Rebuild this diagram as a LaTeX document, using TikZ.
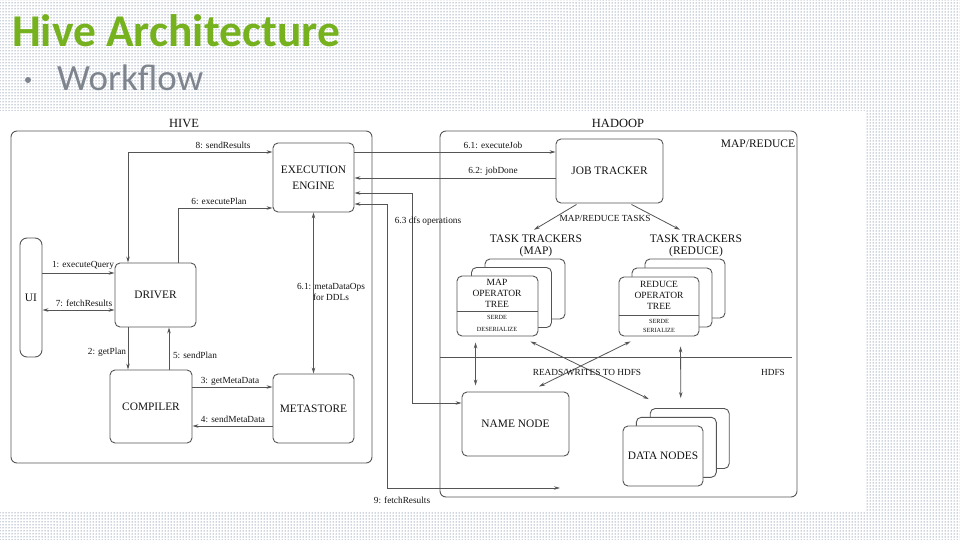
\documentclass[tikz,border=0pt]{standalone}
\usepackage{fontspec}
\setmainfont{Liberation Serif}
\newfontfamily\slidefont{Carlito}
\usetikzlibrary{arrows.meta,patterns}
\definecolor{hivegreen}{RGB}{118,178,30}
\definecolor{bulletgray}{RGB}{127,133,142}
\definecolor{dotblue}{RGB}{45,70,110}
\definecolor{linegray}{RGB}{85,85,85}
\definecolor{inkgray}{RGB}{20,20,20}
\begin{document}
\begin{tikzpicture}[x=1pt,y=-1pt,
    frame/.style={draw=linegray,line width=0.9pt,rounded corners=6pt,inner sep=0pt},
    box/.style={draw=linegray,line width=0.9pt,rounded corners=5pt,fill=white,
      inner sep=0pt,align=center,text=inkgray,font=\fontsize{11.4}{16}\selectfont},
    ttl/.style={text=inkgray,inner sep=0pt,align=center,font=\fontsize{11.5}{12}\selectfont},
    lbl/.style={text=inkgray,inner sep=0pt,align=center,font=\fontsize{9.3}{11}\selectfont},
    tiny/.style={text=inkgray,inner sep=0pt,align=center,font=\fontsize{6.3}{12}\selectfont},
    link/.style={draw=linegray,line width=0.8pt},
    arr/.style={link,-{Stealth[length=6pt,width=3.5pt]}},
    arrs/.style={link,{Stealth[length=6pt,width=3.5pt]}-{Stealth[length=6pt,width=3.5pt]}}]
  % slide background
  \fill[pattern=dots,pattern color=dotblue] (0,0) rectangle (960,540);
  \fill[white] (0,111) rectangle (866,512);
  \useasboundingbox (0,0) rectangle (960,540);
  \node[anchor=base west,inner sep=0pt,text=hivegreen,
    font=\slidefont\bfseries\fontsize{45.5}{48}\selectfont] (title) at (12,47) {Hive Architecture};
  \node[circle,fill=bulletgray,inner sep=0pt,minimum size=6pt] (bullet) at (28,80) {};
  \node[anchor=base west,inner sep=0pt,text=bulletgray,
    font=\slidefont\fontsize{37}{40}\selectfont] (sub) at (57,91) {Workflow};
  % frames
  \node[frame,minimum width=361pt,minimum height=332pt] (hive) at (191.5,297) {};
  \node[frame,minimum width=357pt,minimum height=366pt] (hadoop) at (618.5,314) {};
  \node[ttl,font=\fontsize{12.5}{14}\selectfont] (hivettl) at (184,124) {HIVE};
  \node[ttl,font=\fontsize{12.5}{14}\selectfont] (hadoopttl) at (618,123) {HADOOP};
  \node[ttl] (mrttl) at (758,144) {MAP/REDUCE};
  \draw[link,shorten >=5pt] (hadoop.west |- 0,357) -- (hadoop.east |- 0,357);
  \node[lbl] (hdfsttl) at (773,372) {HDFS};
  % hive side
  \node[box,minimum width=81pt,minimum height=69pt] (ee) at (313.5,177.5) {EXECUTION\\ENGINE};
  \node[box,rounded corners=7pt,minimum width=22pt,minimum height=119pt] (ui) at (31,297.5) {UI};
  \node[box,minimum width=81pt,minimum height=64pt] (driver) at (155.5,295) {DRIVER};
  \node[box,minimum width=82pt,minimum height=73pt] (compiler) at (151,406.5) {COMPILER};
  \node[box,minimum width=81pt,minimum height=69pt] (metastore) at (313.5,408.5) {METASTORE};
  % hadoop side
  \node[box,minimum width=107pt,minimum height=64pt] (jt) at (609.5,171) {JOB TRACKER};
  \node[ttl] (mapttl) at (536,246) {TASK TRACKERS\\(MAP)};
  \node[ttl] (redttl) at (696,246) {TASK TRACKERS\\(REDUCE)};
  \node[box,minimum width=80pt,minimum height=60pt] (map3) at (525,289) {};
  \node[box,minimum width=80pt,minimum height=60pt] (map2) at (511.5,297.5) {};
  \node[box,minimum width=81pt,minimum height=60pt] (map1) at (497.5,306) {};
  \draw[link] (map1.west |- 0,311) -- (map1.east |- 0,311);
  \node[ttl,font=\fontsize{9.5}{11}\selectfont] (maptxt) at (497,293) {MAP\\OPERATOR\\TREE};
  \node[tiny] (mapserde) at (497,323) {SERDE\\DESERIALIZE};
  \node[box,minimum width=80pt,minimum height=59pt] (red3) at (685,288.5) {};
  \node[box,minimum width=80pt,minimum height=59pt] (red2) at (672,297.5) {};
  \node[box,minimum width=80pt,minimum height=59pt] (red1) at (659,306.5) {};
  \draw[link] (red1.west |- 0,315) -- (red1.east |- 0,315);
  \node[ttl,font=\fontsize{9.5}{11}\selectfont] (redtxt) at (659,295) {REDUCE\\OPERATOR\\TREE};
  \node[tiny,font=\fontsize{6.3}{9}\selectfont] (redserde) at (659,325.5) {SERDE\\SERIALIZE};
  \node[box,minimum width=107pt,minimum height=64pt] (nn) at (515.5,424) {NAME NODE};
  \node[box,minimum width=79pt,minimum height=60pt] (dn3) at (689.7,438.5) {};
  \node[box,minimum width=80pt,minimum height=60pt] (dn2) at (676.3,447.3) {};
  \node[box,minimum width=80pt,minimum height=60pt] (dn1) at (663,456) {DATA NODES};
  \coordinate (fetchend) at (560,488);
  % connectors
  \begin{scope}
    \draw[arr] (ui.east |- 0,273) -- (driver.west |- 0,273);
    \draw[arrs] (ui.east |- 0,310) -- (driver.west |- 0,310);
    \draw[arrs] (ee.west |- 0,152) -| (driver.north -| 128,0);
    \draw[arr] (driver.north -| 178,0) |- (ee.west |- 0,208);
    \draw[arr] (driver.south -| 128,0) -- (compiler.north -| 128,0);
    \draw[arr] (compiler.north -| 169,0) -- (driver.south -| 169,0);
    \draw[arr] (compiler.east |- 0,387) -- (metastore.west |- 0,387);
    \draw[arr] (metastore.west |- 0,426) -- (compiler.east |- 0,426);
    \draw[arrs] (ee.south) -- (metastore.north);
    \draw[arr] (ee.east |- 0,152) -- (jt.west |- 0,152);
    \draw[arr] (jt.west |- 0,178) -- (ee.east |- 0,178);
    \draw[arrs] (ee.east |- 0,193) -| (412,403) -- (nn.west |- 0,403);
    \draw[arrs] (ee.east |- 0,204) -| (387,488) -- (fetchend);
    \draw[arr] ([shift={(-33,1)}]jt.south) -- ([shift={(-2,-5)}]mapttl.north);
    \draw[arr] ([shift={(22,1)}]jt.south) -- ([shift={(-16,-5)}]redttl.north);
    \draw[arrs] ([shift={(19,6)}]map1.south west) -- ([shift={(14,-6)}]nn.north west);
    \draw[arrs] ([shift={(62,10)}]red1.south west) -- ([shift={(31,-10)}]dn3.north west);
    \draw[arrs] ([shift={(-8,5)}]map1.south east) -- ([shift={(-1,-9)}]dn3.north west);
    \draw[arrs] ([shift={(23.5,-5)}]nn.north) -- ([shift={(12,5)}]red1.south west);
  \end{scope}
  % labels
  \node[lbl] (l1) at (83,265) {1: executeQuery};
  \node[lbl] (l7) at (84,303) {7: fetchResults};
  \node[lbl] (l8) at (223,145) {8: sendResults};
  \node[lbl] (l6) at (219,201) {6: executePlan};
  \node[lbl] (l2) at (107,352) {2: getPlan};
  \node[lbl] (l5) at (195,355) {5: sendPlan};
  \node[lbl] (l3) at (230,381) {3: getMetaData};
  \node[lbl] (l4) at (233,419) {4: sendMetaData};
  \node[lbl] (l61) at (331,292) {6.1: metaDataOps\\for DDLs};
  \node[lbl] (l61j) at (493,145) {6.1: executeJob};
  \node[lbl] (l62) at (493,171) {6.2: jobDone};
  \node[lbl] (l63) at (428,221) {6.3 dfs operations};
  \node[lbl] (l9) at (402,500) {9: fetchResults};
  \node[lbl] (lmr) at (605,218) {MAP/REDUCE TASKS};
  \node[lbl] (lrw) at (587,372) {READS/WRITES TO HDFS};
\end{tikzpicture}
\end{document}
